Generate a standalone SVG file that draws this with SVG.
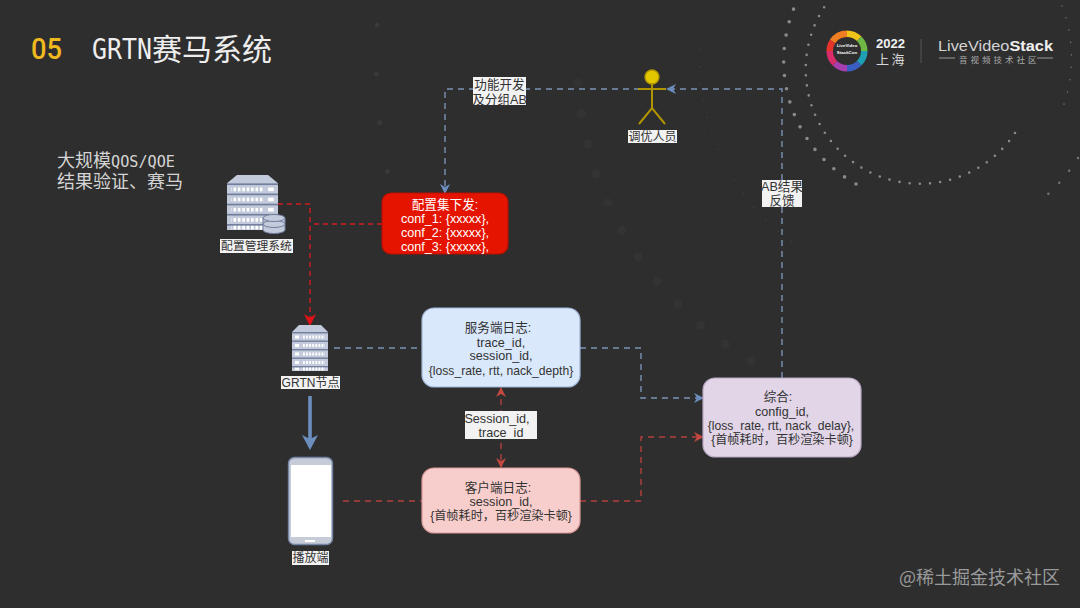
<svg xmlns="http://www.w3.org/2000/svg" xmlns:xlink="http://www.w3.org/1999/xlink" width="1080" height="608" viewBox="0 0 1080 608">
<style>
text{font-family:"Liberation Sans","Noto Sans CJK SC",sans-serif}
.box{stroke-width:1.2}
.t{font-size:12.6px;fill:#333;text-anchor:middle}
.long{font-size:12.150px}
.w{fill:#fff}
.cn{font-family:"Noto Sans CJK SC",sans-serif;font-size:18px;fill:#d4d4d4}
.blue{fill:none;stroke:#7b92b5;stroke-width:1.4;stroke-dasharray:6 5}
.red{fill:none;stroke:#b5403e;stroke-width:1.4;stroke-dasharray:6 5}
.vivid{fill:none;stroke:#d01c22;stroke-width:1.4;stroke-dasharray:5 4}
.dot{fill:none;stroke:#8a8a8a;stroke-linecap:round}
.ring{fill:none;stroke-width:6.500}
.hatch{stroke:#fff;stroke-width:3;stroke-dasharray:1.800 1.300}
.lamp{fill:#fff}
.bar{fill:#717f9c}
.cyl{fill:#c3cadb;stroke:#717f9c}
</style>
<defs>
<marker id="aBlue" markerWidth="12" markerHeight="12" refX="9" refY="5" orient="auto" markerUnits="userSpaceOnUse"><path d="M0 0L10 5L0 10L3 5Z" fill="#6c8ebf"/></marker>
<marker id="aRed" markerWidth="12" markerHeight="12" refX="9" refY="5" orient="auto-start-reverse" markerUnits="userSpaceOnUse"><path d="M0 0L10 5L0 10L3 5Z" fill="#c4483f"/></marker>
<marker id="aVivid" markerWidth="14" markerHeight="14" refX="11" refY="6" orient="auto" markerUnits="userSpaceOnUse"><path d="M0 0L12 6L0 12L3.500 6Z" fill="#e01218"/></marker>
<marker id="aThick" markerWidth="16" markerHeight="16" refX="12" refY="8" orient="auto" markerUnits="userSpaceOnUse"><path d="M0 0L15 8L0 16L4 8Z" fill="#6c8ebf"/></marker>
<symbol id="rack" viewBox="0 0 36 46" preserveAspectRatio="none">
<path d="M0 7L7 0H29L36 7V46H0Z" fill="#c3cadb"/>
<rect class="bar" y="7" width="36" height="1.400"/><rect class="bar" y="15.500" width="36" height="1.400"/><rect class="bar" y="24" width="36" height="1.400"/><rect class="bar" y="32.500" width="36" height="1.400"/><rect class="bar" y="41" width="36" height="1.400"/>
<path class="hatch" d="M11 12H33M11 20.500H33M11 29H33M11 37.500H33M11 44H33"/>
<rect class="lamp" x="3" y="10.500" width="4" height="3"/><rect class="lamp" x="3" y="19" width="4" height="3"/><rect class="lamp" x="3" y="27.500" width="4" height="3"/><rect class="lamp" x="3" y="36" width="4" height="3"/><rect class="lamp" x="3" y="42.800" width="4" height="2.400"/>
</symbol>
</defs>
<rect width="1080" height="608" fill="#2e2e2e"/>

<g id="background-dots">
<path class="dot" d="M1015 133A113 113 0 1 1 825 6" stroke-width="2.600" stroke-dasharray="0 10.200"/>
<path class="dot" d="M856 184A141 141 0 0 1 794 8" stroke-width="3.600" stroke-dasharray="0 13.500"/>
<path class="dot" d="M1062 6A146 146 0 0 1 1063 107" stroke-width="1.600" stroke-dasharray="0 12.500" opacity=".7"/>
<path class="dot" d="M1078 158A181 181 0 0 1 1047 195" stroke-width="2.400" stroke-dasharray="0 15.500" opacity=".8"/>
<path class="dot" d="M700 50A225 225 0 0 0 800 248" stroke-width="1.600" stroke-dasharray="0 17" opacity=".18"/>
<path class="dot" d="M578 83A347 347 0 0 0 755 363" stroke-width="9" stroke-dasharray="0 31" opacity=".06"/>
<path class="dot" d="M377 25A550 550 0 0 0 400 220" stroke-width="5" stroke-dasharray="0 49" opacity=".12"/>
</g>

<g id="title">
<text x="31" y="59" font-size="29" font-weight="500" style="font-family:Roboto,sans-serif" fill="#f0b91e" textLength="31" lengthAdjust="spacingAndGlyphs">05</text>
<text x="92" y="59" font-size="28" fill="#eeeeee" style="font-family:'DejaVu Sans Mono',monospace" textLength="60" lengthAdjust="spacingAndGlyphs">GRTN</text>
<text x="152" y="60" font-size="30" fill="#eeeeee" style="font-family:'Noto Sans CJK SC',sans-serif">赛马系统</text>
</g>

<g id="subtitle">
<text class="cn" x="57" y="167">大规模<tspan style="font-family:'DejaVu Sans Mono',monospace" font-size="15.200">QOS/QOE</tspan></text>
<text class="cn" x="57" y="188">结果验证、赛马</text>
</g>

<g id="logo">
<g class="ring" transform="translate(847 51)">
<path d="M-14.500 -9.500A17.300 17.300 0 0 1 0 -17.300" stroke="#ef7d22"/>
<path d="M0 -17.300A17.300 17.300 0 0 1 12.200 -12.200" stroke="#f0c419"/>
<path d="M12.200 -12.200A17.300 17.300 0 0 1 17.300 0" stroke="#6fb745"/>
<path d="M17.300 0A17.300 17.300 0 0 1 12.200 12.200" stroke="#1e9fb4"/>
<path d="M12.200 12.200A17.300 17.300 0 0 1 0 17.300" stroke="#3a5fc0"/>
<path d="M0 17.300A17.300 17.300 0 0 1 -12.200 12.200" stroke="#a63fb0"/>
<path d="M-12.200 12.200A17.300 17.300 0 0 1 -17.300 0" stroke="#d92c6b"/>
<path d="M-17.300 0A17.300 17.300 0 0 1 -14.500 -9.500" stroke="#e5342c"/>
</g>
<text x="847" y="47" font-size="4.400" font-weight="700" fill="#fff" text-anchor="middle">LiveVideo</text>
<text x="847" y="54" font-size="4.400" font-weight="700" fill="#fff" text-anchor="middle">StackCon</text>
<text x="876" y="48" font-size="12.500" font-weight="700" fill="#f2f2f2" textLength="29" lengthAdjust="spacingAndGlyphs">2022</text>
<text x="876" y="64" font-size="13" fill="#d8d8d8" letter-spacing="2.500" style="font-family:'Noto Sans CJK SC',sans-serif">上海</text>
<line x1="921" y1="39" x2="921" y2="63" stroke="#555" stroke-width="1"/>
<text x="938" y="51" font-size="15" fill="#d4d4d4" textLength="115" lengthAdjust="spacingAndGlyphs">LiveVideo<tspan font-weight="700" fill="#f0f0f0">Stack</tspan></text>
<line x1="939" y1="58" x2="955" y2="58" stroke="#999"/><line x1="1037" y1="58" x2="1053" y2="58" stroke="#999"/>
<text x="959" y="62.500" font-size="8.500" fill="#aaa" letter-spacing="3" style="font-family:'Noto Sans CJK SC',sans-serif">音视频技术社区</text>
</g>

<g id="connectors">
<path class="blue" d="M782 378V89H667" marker-end="url(#aBlue)"/>
<path class="blue" d="M640 89H445V193" marker-end="url(#aBlue)"/>
<path class="vivid" d="M278 204H310V325" marker-end="url(#aVivid)"/>
<path class="vivid" d="M382 224H310"/>
<path class="blue" d="M334 348H422"/>
<path class="blue" d="M580 348H641V398H703" marker-end="url(#aBlue)"/>
<path class="red" d="M343 501H422"/>
<path class="red" d="M580 501H641V437H703" marker-end="url(#aRed)"/>
<path class="red" d="M501 388V467" marker-start="url(#aRed)" marker-end="url(#aRed)"/>
<path d="M310 396V447" fill="none" stroke="#6c8ebf" stroke-width="3.600" marker-end="url(#aThick)"/>
</g>

<g id="label-feature">
<rect x="473" y="77" width="53" height="28" fill="#f2f2f2"/>
<text class="t" x="499.500" y="89">功能开发</text>
<text class="t" x="499.500" y="103.500">及分组AB</text>
</g>
<g id="label-ab">
<rect x="762" y="180" width="40" height="27" fill="#f2f2f2"/>
<text class="t" x="782" y="191">AB结果</text>
<text class="t" x="782" y="205">反馈</text>
</g>
<g id="label-session">
<rect x="465" y="411" width="72" height="28" fill="#f2f2f2"/>
<text class="t" x="497" y="423">Session_id,</text>
<text class="t" x="501" y="437">trace_id</text>
</g>

<g id="node-config-system">
<use xlink:href="#rack" href="#rack" x="-278" y="175" width="51" height="55" transform="scale(-1 1)"/>
<ellipse class="cyl" cx="274" cy="230" rx="11" ry="3.500"/>
<rect x="263" y="218" width="22" height="12" fill="#c3cadb"/>
<path d="M263 218V230M285 218V230" stroke="#717f9c"/>
<ellipse class="cyl" cx="274" cy="224" rx="11" ry="3.500"/>
<ellipse class="cyl" cx="274" cy="218" rx="11" ry="3.500"/>
<rect x="220" y="239" width="73" height="14" fill="#f2f2f2"/>
<text class="t" x="256.500" y="250" style="font-size:11.800px">配置管理系统</text>
</g>

<g id="node-config-dispatch">
<rect class="box" x="382" y="193" width="126" height="61" rx="9" fill="#e51400" stroke="#b51000"/>
<text class="t w" x="445" y="209">配置集下发:</text>
<text class="t w" x="445" y="223">conf_1: {xxxxx},</text>
<text class="t w" x="445" y="237">conf_2: {xxxxx},</text>
<text class="t w" x="445" y="251">conf_3: {xxxxx},</text>
</g>

<g id="node-tuner">
<circle cx="652" cy="77" r="7" fill="#e3c800" stroke="#b09500" stroke-width="1.400"/>
<path d="M652 84V108M638 89H666M639 124L652 108L665 124" fill="none" stroke="#b09500" stroke-width="2"/>
<rect x="628" y="130" width="49" height="13" fill="#f2f2f2"/>
<text class="t" x="652.500" y="141" style="font-size:12px">调优人员</text>
</g>

<g id="node-grtn">
<use xlink:href="#rack" href="#rack" x="292" y="325" width="36" height="46"/>
<rect x="281" y="376" width="59" height="13" fill="#f2f2f2"/>
<text class="t" x="310.500" y="387" style="font-size:12px">GRTN节点</text>
</g>

<g id="node-server-log">
<rect class="box" x="422" y="308" width="158" height="79" rx="12" fill="#dae8fc" stroke="#9fb6d8"/>
<text class="t" x="498" y="332">服务端日志:</text>
<text class="t" x="501" y="347">trace_id,</text>
<text class="t" x="501" y="360">session_id,</text>
<text class="t long" x="501" y="375">{loss_rate, rtt, nack_depth}</text>
</g>

<g id="node-client-log">
<rect class="box" x="422" y="468" width="158" height="65" rx="12" fill="#f8cecc" stroke="#d99a97"/>
<text class="t" x="498" y="492">客户端日志:</text>
<text class="t" x="501" y="506">session_id,</text>
<text class="t long" x="501" y="520">{首帧耗时&#xFF0C;百秒渲染卡顿}</text>
</g>

<g id="node-summary">
<rect class="box" x="703" y="378" width="158" height="79" rx="12" fill="#e1d5e7" stroke="#b9a8c4"/>
<text class="t" x="778" y="401">综合:</text>
<text class="t" x="782" y="416">config_id,</text>
<text class="t long" x="781" y="430">{loss_rate, rtt, nack_delay},</text>
<text class="t long" x="782" y="444">{首帧耗时&#xFF0C;百秒渲染卡顿}</text>
</g>

<g id="node-player">
<rect x="288.500" y="457.500" width="44" height="87" rx="6" fill="#c6cbd8" stroke="#7585a5" stroke-width="1.400"/>
<rect x="291" y="465" width="40" height="72" fill="#fff"/>
<rect x="305" y="540" width="10" height="2" fill="#fff"/>
<rect x="292" y="551" width="37" height="14" fill="#f2f2f2"/>
<text class="t" x="310.500" y="562" style="font-size:12px">播放端</text>
</g>

<g id="watermark">
<text x="899" y="584" font-size="18" fill="#9a9a9a" style="font-family:'Noto Sans CJK SC',sans-serif">@稀土掘金技术社区</text>
</g>
</svg>
